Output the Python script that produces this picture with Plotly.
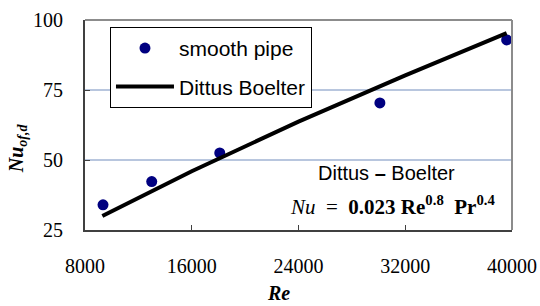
import plotly.graph_objects as go

# data
re_pts = [9350, 13000, 18100, 30100, 39600]
nu_pts = [34.0, 42.3, 52.5, 70.4, 92.9]

re_line = [9300, 16000, 24000, 32000, 39600]
nu_line = [30.0, 46.0, 63.7, 80.2, 95.3]

x_ticks = [8000, 16000, 24000, 32000, 40000]
y_ticks = [25, 50, 75, 100]

SERIF = "Liberation Serif, Times New Roman, serif"
SANS = "Liberation Sans, Arial, sans-serif"

fig = go.Figure()
fig.add_trace(go.Scatter(x=re_pts, y=nu_pts, mode="markers", name="smooth pipe",
                         legendgroup="a",
                         marker=dict(color="#000080", size=11)))
fig.add_trace(go.Scatter(x=re_line, y=nu_line, mode="lines", name="Dittus Boelter",
                         legendgroup="b",
                         line=dict(color="black", width=4)))

fig.update_layout(
    width=540, height=306,
    margin=dict(l=85, r=28, t=20, b=76),
    paper_bgcolor="white", plot_bgcolor="white",
    showlegend=True,
    legend=dict(x=0.0585, y=0.967, xanchor="left", yanchor="top",
                bordercolor="black", borderwidth=1, bgcolor="white",
                font=dict(family=SANS, size=21, color="black"),
                tracegroupgap=8, traceorder="grouped", itemwidth=58),
    font=dict(family=SERIF, color="black"),
)
fig.update_xaxes(range=[8000, 40000], tickvals=x_ticks, ticktext=[str(v) for v in x_ticks],
                 ticks="inside", ticklen=5, tickcolor="#404040",
                 showline=True, linecolor="#404040", linewidth=2, mirror=False,
                 showgrid=False, zeroline=False, automargin=False,
                 tickfont=dict(family=SERIF, size=20, color="black"),
                 ticklabelstandoff=17)
fig.update_yaxes(range=[25, 100], tickvals=y_ticks, ticktext=[str(v) for v in y_ticks],
                 ticks="inside", ticklen=5, tickcolor="#404040",
                 showline=True, linecolor="#404040", linewidth=2,
                 showgrid=True, gridcolor="#b8c6de", gridwidth=2, zeroline=False,
                 automargin=False,
                 tickfont=dict(family=SERIF, size=20, color="black"),
                 ticklabelstandoff=16)

# top and right frame lines (gray)
fig.add_shape(type="line", xref="paper", yref="paper", x0=0, x1=1, y0=1, y1=1,
              line=dict(color="#8c8c8c", width=2))
fig.add_shape(type="line", xref="paper", yref="paper", x0=1, x1=1, y0=0, y1=1,
              line=dict(color="#8c8c8c", width=2))

fig.add_annotation(xref="paper", yref="paper", x=0.452, y=-0.30, showarrow=False,
                   xanchor="center", yanchor="middle",
                   text="<b><i>Re</i></b>", font=dict(family=SERIF, size=20))
fig.add_annotation(xref="paper", yref="paper", x=-0.159, y=0.39, showarrow=False,
                   xanchor="center", yanchor="middle",
                   textangle=-90, text="<b><i>Nu<sub>of,d</sub></i></b>",
                   font=dict(family=SERIF, size=20))
fig.add_annotation(xref="paper", yref="paper", x=0.707, y=0.271, showarrow=False,
                   xanchor="center", yanchor="middle",
                   text="Dittus <b>–</b> Boelter", font=dict(family=SANS, size=20))
fig.add_annotation(xref="paper", yref="paper", x=0.72, y=0.119, showarrow=False,
                   xanchor="center", yanchor="middle",
                   text="<i>Nu</i>  =  <b>0.023 Re<sup>0.8</sup>  Pr<sup>0.4</sup></b>",
                   font=dict(family=SERIF, size=21))

fig.write_html("out.html", config={"displayModeBar": False},
               post_script="document.body.style.margin='0';document.body.style.overflow='hidden';")
